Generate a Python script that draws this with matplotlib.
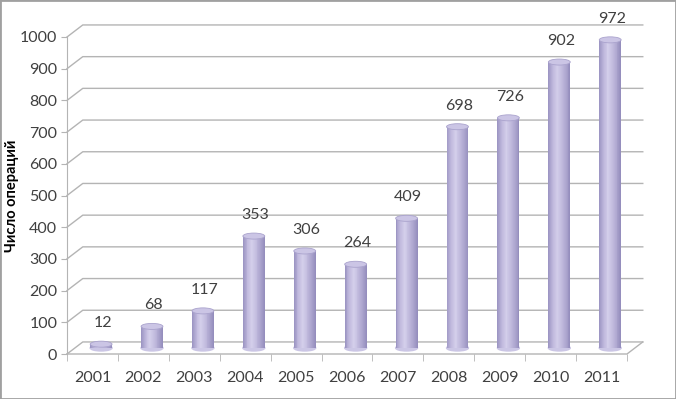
import matplotlib.pyplot as plt
import numpy as np
from matplotlib.patches import Ellipse, Rectangle
from matplotlib.colors import LinearSegmentedColormap

plt.rcParams['font.family'] = ['Lato', 'DejaVu Sans']

years = ['2001', '2002', '2003', '2004', '2005', '2006', '2007', '2008', '2009', '2010', '2011']
operations = [12, 68, 117, 353, 306, 264, 409, 698, 726, 902, 972]
y_ticks = list(range(0, 1001, 100))

# псевдо-3D: смещение задней стенки (в единицах данных)
DX, DY = 0.31, 38
XC, YC = 0.17, 19          # центр цилиндра по глубине
W = 0.43                   # ширина цилиндра
EH = 19                    # высота эллипса крышки
GRID = '#b4b4b4'
TXT = '#404040'

cyl = LinearSegmentedColormap.from_list(
    'cyl', ['#9d96c4', '#c0b9dd', '#d4cfeb', '#c3bddf', '#aea7d0', '#958ebd'])

fig = plt.figure(figsize=(6.76, 3.99), dpi=100)
ax = fig.add_axes([67 / 676, 45 / 399, 560 / 676, 317 / 399])
ax.set_xlim(-0.5, 10.5)
ax.set_ylim(0, 1000)
for s in ['top', 'right', 'bottom']:
    ax.spines[s].set_visible(False)
ax.spines['left'].set_color(GRID)

# сетка на задней стенке
x0, x1 = -0.5, len(years) - 0.5
for v in y_ticks:
    ax.plot([x0, x0 + DX, x1 + DX], [v, v + DY, v + DY], color=GRID, lw=1, clip_on=False, zorder=1)
# пол
ax.plot([x0, x1, x1 + DX], [0, 0, DY], color=GRID, lw=1, clip_on=False, zorder=1)

# цилиндры
n = 24
for i, v in enumerate(operations):
    xc = i + XC
    ax.add_patch(Ellipse((xc, YC), W, EH, color=cyl(0.5), zorder=3, clip_on=False))
    edges = np.linspace(xc - W / 2, xc + W / 2, n + 1)
    for k in range(n):
        ax.bar(edges[k], v, width=edges[k + 1] - edges[k], bottom=YC, align='edge',
               color=cyl(k / (n - 1)), lw=0, zorder=4, clip_on=False)
    ax.add_patch(Ellipse((xc, v + YC), W, EH, facecolor='#cbc5e5', edgecolor='#aaa3cd',
                         lw=0.6, zorder=5, clip_on=False))
    ax.text(xc + 0.03, v + YC + 66, str(v), ha='center', va='center', fontsize=11.5,
            color=TXT, zorder=6, clip_on=False)

ax.set_yticks(y_ticks)
ax.set_yticklabels([str(v) for v in y_ticks])
ax.tick_params(axis='y', colors=GRID, labelcolor=TXT, labelsize=11.5, length=4, pad=3)
ax.set_xticks(range(len(years)))
ax.set_xticklabels(years)
ax.set_xticks(np.arange(-0.5, len(years), 1), minor=True)
ax.tick_params(axis='x', which='major', length=0, labelsize=11.5, labelcolor=TXT, pad=12)
ax.tick_params(axis='x', which='minor', length=5, color=GRID, direction='out')

ax.set_ylabel('Число операций', fontsize=10.5, fontweight='bold', color='black')
ax.yaxis.set_label_coords(-0.085, 0.5)

fig.patches.append(Rectangle((0, 0), 1, 1, transform=fig.transFigure, fill=False,
                             edgecolor='#a0a0a0', lw=2))

fig.savefig('out.png', dpi=100)
